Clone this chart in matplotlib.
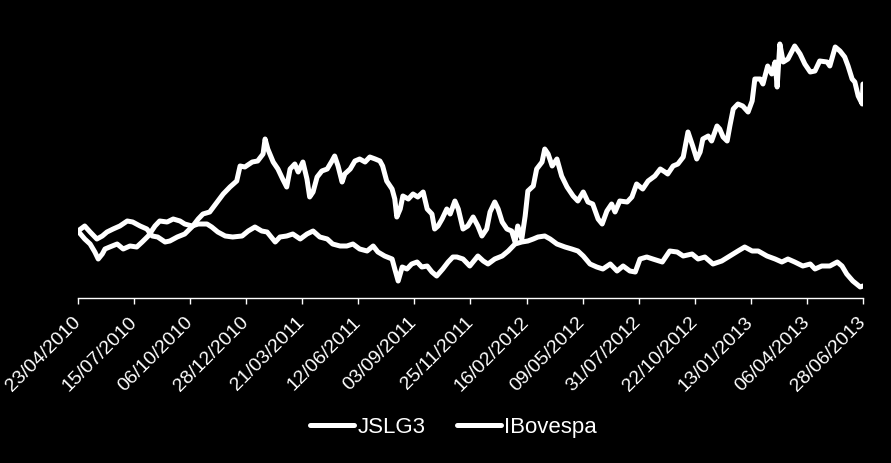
#!/usr/bin/env python3
# -*- coding: utf-8 -*-
"""
plot.py
=============================================================
JSLG3 vs IBovespa, base 100 on 23/04/2010.
Black background, two white lines, dated x-axis only.
=============================================================
"""

import pandas as pd
import matplotlib
matplotlib.use("Agg")
import matplotlib.pyplot as plt
import matplotlib.dates as mdates


# ============================================================
# Data (index, base 100 = 23/04/2010)
# ============================================================
START = pd.Timestamp("2010-04-23")
END = pd.Timestamp("2013-06-28")
TICK_STEP_DAYS = 83

jslg3_days = [
    0, 10, 18, 28, 36, 43, 52, 62, 73, 81,
    92, 102, 110, 118, 129, 136, 147, 158, 170, 178,
    185, 195, 206, 215, 225, 235, 240, 247, 258, 266,
    274, 277, 281, 289, 296, 303, 309, 314, 321, 326,
    333, 339, 343, 348, 354, 361, 369, 376, 380, 385,
    391, 395, 403, 410, 417, 425, 432, 440, 447, 451,
    457, 465, 469, 472, 477, 481, 489, 496, 503, 511,
    517, 524, 528, 533, 539, 546, 551, 558, 563, 570,
    577, 585, 592, 598, 605, 610, 617, 622, 628, 635,
    642, 647, 651, 657, 662, 666, 674, 679, 687, 691,
    696, 702, 709, 716, 724, 733, 740, 748, 755, 762,
    770, 776, 783, 790, 795, 802, 813, 820, 827, 836,
    844, 854, 862, 869, 873, 881, 888, 896, 903, 910,
    916, 921, 925, 933, 938, 946, 950, 955, 961, 965,
    970, 977, 984, 992, 998, 1002, 1010, 1014, 1021, 1027,
    1032, 1035, 1039, 1044, 1051, 1061, 1069, 1076, 1084, 1091,
    1098, 1109, 1113, 1121, 1128, 1135, 1140, 1146, 1150, 1155,
    1161, 1162,
]
jslg3_values = [
    100, 102.5, 99.5, 96, 97.5, 99.5, 101, 102.5, 105, 104.5,
    102.5, 101, 97.5, 97, 94.5, 95, 97, 98.5, 102.5, 106,
    108.5, 109.5, 114.5, 118.5, 122, 125, 132.5, 132, 134.5, 135,
    138.5, 146, 141, 134.5, 131, 126, 122, 131, 133.5, 129.5,
    134.5, 126, 117, 119.5, 127, 130, 131, 135, 137.5, 132.5,
    124.5, 128.5, 131, 135, 136, 134.5, 137, 136, 135, 132.5,
    125, 121, 116, 107, 111, 117.5, 116, 118.5, 117, 119.5,
    111, 108.5, 101, 102.5, 106, 111, 108.5, 115, 111, 101,
    102.5, 107, 102.5, 97.5, 101, 109.5, 114.5, 111, 104.5, 101,
    100, 94.5, 102.5, 96, 107.5, 120, 122.5, 131, 134.5, 141,
    138.5, 132.5, 136, 127.5, 122, 117.5, 115, 119.5, 114.5, 113.5,
    106, 103.5, 110, 113.5, 109.5, 115, 114.5, 117, 123.5, 121,
    125, 127.5, 131, 129.5, 128.5, 132.5, 133.5, 137, 149.5, 142.5,
    136, 139.5, 146, 147.5, 145, 152.5, 151, 147, 145, 152.5,
    161, 163.5, 162.5, 159.5, 165, 176, 176, 173.5, 182.5, 178.5,
    184.5, 172, 193.5, 184.5, 186, 192.5, 188.5, 183.5, 179.5, 180,
    185, 184.5, 182.5, 192, 190, 187, 182.5, 176, 174.5, 167.5,
    163.5, 173.5,
]

ibov_days = [
    0, 10, 18, 25, 30, 36, 40, 47, 58, 67,
    77, 87, 95, 104, 114, 121, 132, 141, 151, 158,
    169, 178, 191, 198, 207, 218, 229, 243, 252, 262,
    272, 280, 292, 299, 309, 318, 329, 339, 348, 358,
    369, 377, 388, 398, 407, 417, 428, 437, 444, 454,
    465, 469, 474, 480, 487, 494, 502, 509, 517, 524,
    531, 540, 548, 555, 561, 570, 580, 592, 600, 607,
    617, 628, 637, 647, 657, 666, 674, 681, 691, 699,
    709, 721, 731, 740, 748, 758, 768, 777, 788, 798,
    807, 817, 825, 832, 842, 851, 865, 876, 887, 896,
    909, 918, 928, 940, 953, 965, 977, 987, 998, 1007,
    1020, 1032, 1042, 1051, 1061, 1073, 1084, 1091, 1101, 1113,
    1124, 1131, 1138, 1147, 1158, 1162,
]
ibov_values = [
    100, 96, 93.5, 89.5, 86, 88.5, 91, 92, 93.5, 91,
    92.5, 92, 94.5, 97.5, 102.5, 105, 104.5, 106, 105, 103.5,
    102.5, 103.5, 103.5, 102, 99.5, 97.5, 97, 97.5, 100, 102,
    100, 99.5, 94.5, 97, 97.5, 98.5, 96, 98.5, 100, 97,
    96, 93.5, 92.5, 92.5, 93.5, 91, 90, 92.5, 89.5, 87.5,
    86, 81, 75, 82, 81, 83.5, 84.5, 82, 82.5, 79.5,
    77.5, 81, 84.5, 87, 87, 86, 82.5, 87.5, 85, 83.5,
    86, 87.5, 90, 93.5, 94.5, 95, 96, 97, 97.5, 96,
    93.5, 92, 91, 90, 87.5, 83.5, 82, 81, 83.5, 80,
    82.5, 80, 79.5, 86, 87, 86, 84.5, 90, 89.5, 87.5,
    88.5, 86, 87, 83.5, 85, 87.5, 90, 92, 90, 90,
    87.5, 86, 84.5, 86, 84.5, 82.5, 83.5, 81, 82.5, 82.5,
    84.5, 82.5, 78.5, 75, 72, 72.5,
]

series_labels = ["JSLG3", "IBovespa"]

assert len(jslg3_days) == len(jslg3_values)
assert len(ibov_days) == len(ibov_values)


# ============================================================
# Helpers
# ============================================================
def to_dates(days):
    """Day offsets from START -> timestamps."""
    return START + pd.to_timedelta(days, unit="D")


# ============================================================
# Plot
# ============================================================
FG = "white"
plt.rcParams["font.family"] = ["Liberation Sans", "DejaVu Sans"]

fig = plt.figure(figsize=(8.91, 4.64), dpi=100, facecolor="black")
ax = fig.add_axes([0.0875, 0.3556, 0.8810, 0.5582], facecolor="black")

line_kw = dict(color=FG, lw=3.6, solid_capstyle="round", solid_joinstyle="round")
h1, = ax.plot(to_dates(jslg3_days), jslg3_values, **line_kw)
h2, = ax.plot(to_dates(ibov_days), ibov_values, **line_kw)

ax.set_xlim(START, END)
ax.set_ylim(66.5, 196)

ticks = pd.date_range(START, END, freq=f"{TICK_STEP_DAYS}D")
ax.set_xticks(ticks)
ax.xaxis.set_major_formatter(mdates.DateFormatter("%d/%m/%Y"))
ax.tick_params(axis="x", colors=FG, direction="out", length=4, width=1,
               labelsize=14, pad=11)
for lbl in ax.get_xticklabels():
    lbl.set_rotation(45)
    lbl.set_ha("right")
    lbl.set_va("center")
    lbl.set_rotation_mode("anchor")

ax.set_yticks([])
for side in ("top", "left", "right"):
    ax.spines[side].set_visible(False)
ax.spines["bottom"].set_color(FG)
ax.spines["bottom"].set_linewidth(1)

fig.legend([h1, h2], series_labels, loc="center", ncol=2, frameon=False,
           bbox_to_anchor=(453.5 / 891, 1 - 428 / 464), fontsize=16,
           labelcolor=FG, handlelength=2.0, handletextpad=0.15,
           columnspacing=1.4)

fig.savefig("out.png", dpi=100, facecolor="black")
